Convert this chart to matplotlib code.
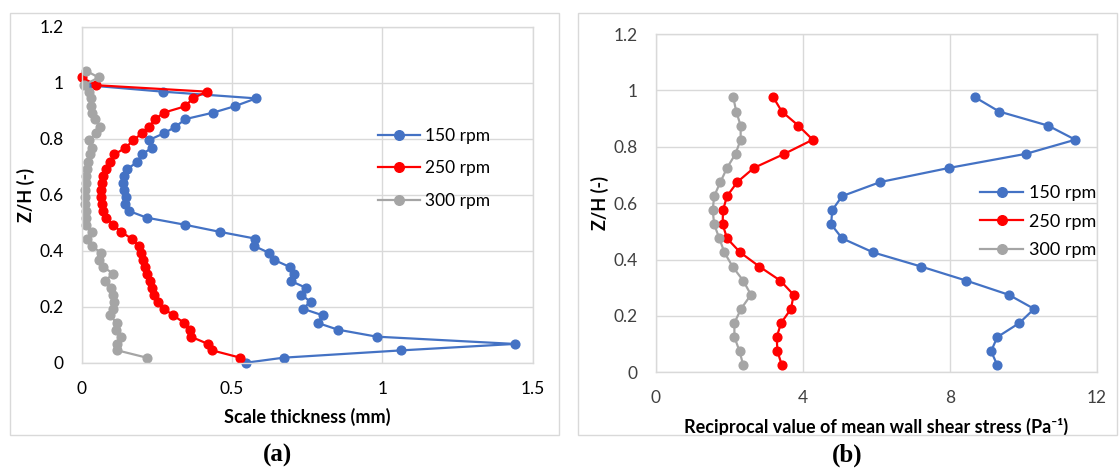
import matplotlib
matplotlib.use('Agg')
import matplotlib.pyplot as plt
from matplotlib.patches import Rectangle

plt.rcParams['font.family'] = ['Lato', 'DejaVu Sans']

# (a) scale thickness profiles, y = Z/H
y_150a = [0.0, 0.018, 0.044, 0.067, 0.093, 0.118, 0.142, 0.169, 0.193, 0.217, 0.243,
          0.268, 0.292, 0.318, 0.342, 0.367, 0.392, 0.417, 0.443, 0.467, 0.493, 0.518,
          0.542, 0.567, 0.592, 0.618, 0.642, 0.667, 0.692, 0.717, 0.744, 0.767, 0.795,
          0.819, 0.842, 0.870, 0.893, 0.916, 0.944, 0.968, 0.991]
x_150a = [0.547, 0.672, 1.063, 1.440, 0.981, 0.852, 0.785, 0.802, 0.735, 0.761, 0.731,
          0.745, 0.695, 0.707, 0.692, 0.640, 0.624, 0.573, 0.578, 0.461, 0.342, 0.216,
          0.157, 0.145, 0.149, 0.140, 0.137, 0.140, 0.152, 0.185, 0.200, 0.233, 0.223,
          0.273, 0.311, 0.345, 0.437, 0.509, 0.580, 0.270, 0.018]

y_250a = [0.018, 0.044, 0.067, 0.093, 0.118, 0.142, 0.169, 0.193, 0.217, 0.243, 0.268,
          0.292, 0.318, 0.342, 0.367, 0.392, 0.417, 0.443, 0.467, 0.493, 0.518, 0.542,
          0.567, 0.592, 0.618, 0.642, 0.667, 0.692, 0.717, 0.744, 0.767, 0.795, 0.819,
          0.842, 0.870, 0.893, 0.916, 0.944, 0.968, 0.991, 1.019]
x_250a = [0.527, 0.434, 0.420, 0.363, 0.360, 0.341, 0.305, 0.273, 0.253, 0.240, 0.235,
          0.226, 0.218, 0.210, 0.204, 0.196, 0.190, 0.166, 0.131, 0.105, 0.081, 0.071,
          0.069, 0.065, 0.065, 0.069, 0.071, 0.081, 0.093, 0.109, 0.145, 0.172, 0.200,
          0.223, 0.245, 0.273, 0.345, 0.369, 0.416, 0.048, 0.0]

y_300a = [0.018, 0.044, 0.067, 0.093, 0.118, 0.142, 0.169, 0.193, 0.217, 0.243, 0.268,
          0.292, 0.318, 0.342, 0.367, 0.392, 0.417, 0.443, 0.467, 0.493, 0.518, 0.542,
          0.567, 0.592, 0.618, 0.642, 0.667, 0.692, 0.717, 0.744, 0.767, 0.795, 0.819,
          0.842, 0.870, 0.893, 0.916, 0.944, 0.968, 0.991, 1.019, 1.043]
x_300a = [0.216, 0.119, 0.117, 0.131, 0.113, 0.117, 0.093, 0.105, 0.107, 0.105, 0.099,
          0.077, 0.105, 0.071, 0.057, 0.065, 0.033, 0.018, 0.033, 0.014, 0.014, 0.014,
          0.012, 0.012, 0.012, 0.014, 0.014, 0.018, 0.020, 0.028, 0.033, 0.024, 0.048,
          0.062, 0.045, 0.033, 0.030, 0.030, 0.024, 0.008, 0.056, 0.014]

# (b) reciprocal of mean wall shear stress
y_b = [0.025, 0.075, 0.125, 0.175, 0.225, 0.275, 0.325, 0.375, 0.425, 0.475,
       0.525, 0.575, 0.625, 0.675, 0.725, 0.775, 0.825, 0.875, 0.925, 0.975]
x_150b = [9.29, 9.12, 9.29, 9.89, 10.29, 9.60, 8.45, 7.22, 5.92, 5.07,
          4.77, 4.80, 5.07, 6.11, 7.98, 10.07, 11.41, 10.67, 9.34, 8.69]
x_250b = [3.43, 3.31, 3.29, 3.41, 3.68, 3.75, 3.39, 2.82, 2.30, 1.94,
          1.82, 1.83, 1.94, 2.22, 2.67, 3.50, 4.27, 3.88, 3.43, 3.20]
x_300b = [2.38, 2.28, 2.14, 2.14, 2.32, 2.59, 2.38, 2.09, 1.87, 1.73,
          1.59, 1.55, 1.59, 1.76, 1.94, 2.17, 2.31, 2.31, 2.19, 2.11]

labels = ['150 rpm', '250 rpm', '300 rpm']
colors = ['#4472C4', '#FF0000', '#A5A5A5']

W, H = 1119, 468
fig = plt.figure(figsize=(W / 100, H / 100), dpi=100)

def px_axes(x0, y0, x1, y1):
    # pixel box (top-left origin) -> figure fraction
    return fig.add_axes([x0 / W, 1 - y1 / H, (x1 - x0) / W, (y1 - y0) / H])

def style_axes(ax, xmax, xticks, tick_color):
    ax.set_xlim(0, xmax)
    ax.set_ylim(0, 1.2)
    ax.set_xticks(xticks)
    ax.set_yticks([0, 0.2, 0.4, 0.6, 0.8, 1.0, 1.2])
    ax.set_xticklabels([f'{t:g}' for t in xticks])
    ax.set_yticklabels(['0', '0.2', '0.4', '0.6', '0.8', '1', '1.2'])
    ax.grid(True, color='#d9d9d9', lw=1)
    ax.set_axisbelow(True)
    for s in ax.spines.values():
        s.set_color('#d9d9d9')
        s.set_linewidth(1)
    ax.tick_params(length=0, labelsize=12.5, colors=tick_color, pad=13)
    ax.set_ylabel('Z/H (-)', fontsize=13, fontweight='bold', labelpad=3)

# panel frames
for x0, x1 in [(9.5, 558.5), (577.5, 1116.5)]:
    fig.add_artist(Rectangle((x0 / W, 1 - 435 / H), (x1 - x0) / W, (435 - 12.5) / H,
                             transform=fig.transFigure, fill=False,
                             edgecolor='#d9d9d9', lw=1))

# (a)
ax1 = px_axes(81.7, 26.7, 532.7, 362.7)
for xs, ys, lab, c in zip([x_150a, x_250a, x_300a], [y_150a, y_250a, y_300a], labels, colors):
    ax1.plot(xs, ys, '-o', color=c, lw=1.6, ms=6.3, label=lab, clip_on=False)
style_axes(ax1, 1.5, [0, 0.5, 1, 1.5], '#000000')
ax1.set_xlabel('Scale thickness (mm)', fontsize=13, fontweight='bold', labelpad=8)
ax1.legend(loc='upper left', bbox_to_anchor=(378 / W, 1 - 128 / H),
           bbox_transform=fig.transFigure, frameon=False, fontsize=12.5,
           handlelength=2.4, handletextpad=0.3, labelspacing=0.95, borderpad=0,
           borderaxespad=0, markerscale=1.1)

# (b)
ax2 = px_axes(655.7, 34, 1097, 372.3)
for xs, lab, c in zip([x_150b, x_250b, x_300b], labels, colors):
    ax2.plot(xs, y_b, '-o', color=c, lw=1.6, ms=6.3, label=lab, clip_on=False)
style_axes(ax2, 12, [0, 4, 8, 12], '#404040')
ax2.set_xlabel('Reciprocal value of mean wall shear stress (Pa\u207b\u00b9)',
               fontsize=13, fontweight='bold', labelpad=8)
ax2.legend(loc='upper left', bbox_to_anchor=(980 / W, 1 - 185 / H),
           bbox_transform=fig.transFigure, frameon=False, fontsize=13,
           handlelength=2.4, handletextpad=0.3, labelspacing=0.7, borderpad=0,
           borderaxespad=0, markerscale=1.1)

fig.text(277 / W, 1 - 455 / H, '(a)', family='Liberation Serif', fontweight='bold',
         fontsize=18, ha='center', va='center')
fig.text(847 / W, 1 - 455 / H, '(b)', family='Liberation Serif', fontweight='bold',
         fontsize=18, ha='center', va='center')

fig.savefig('out.png', dpi=100)
